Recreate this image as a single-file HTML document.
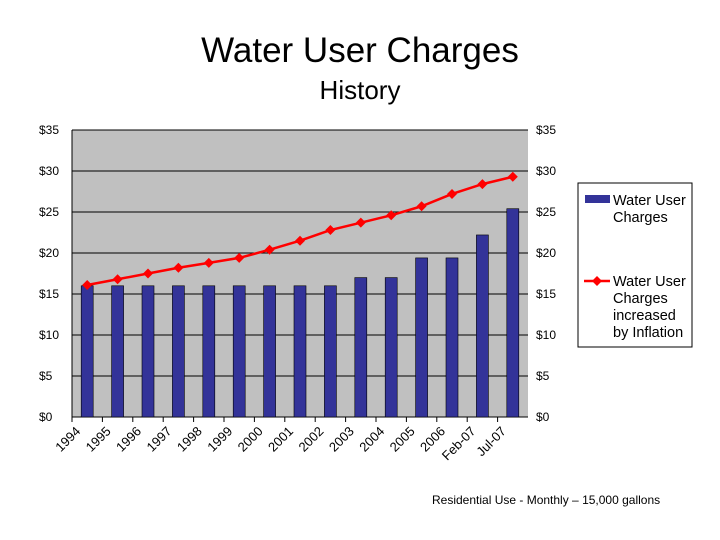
<!DOCTYPE html>
<html><head><meta charset="utf-8"><style>
body{margin:0;background:#fff;font-family:"Liberation Sans",Arial,sans-serif}
svg{display:block}
</style></head><body>
<svg width="720" height="540" viewBox="0 0 720 540">
<text x="360" y="62" font-size="35" text-anchor="middle">Water User Charges</text>
<text x="360" y="99" font-size="26" text-anchor="middle">History</text>
<rect x="72" y="130" width="456" height="287" fill="#c0c0c0"/>
<g id="grid"></g><g id="bars"></g><g id="line"></g><g id="axes"></g>
<rect x="578" y="183" width="114" height="164" fill="#fff" stroke="#000" stroke-width="1"/>
<rect x="585" y="195" width="25" height="8" fill="#333399"/>
<text x="613" y="205" font-size="14.5"><tspan x="613">Water User</tspan><tspan x="613" dy="17">Charges</tspan></text>
<line x1="584" y1="281" x2="610" y2="281" stroke="#ff0000" stroke-width="2.5"/>
<path d="M597 276 L602 281 L597 286 L592 281Z" fill="#ff0000"/>
<text x="613" y="286" font-size="14.5"><tspan x="613">Water User</tspan><tspan x="613" dy="17">Charges</tspan><tspan x="613" dy="17">increased</tspan><tspan x="613" dy="17">by Inflation</tspan></text>
<text x="432" y="504" font-size="12">Residential Use - Monthly – 15,000 gallons</text>
</svg>
<script>
const categories=["1994","1995","1996","1997","1998","1999","2000","2001","2002","2003","2004","2005","2006","Feb-07","Jul-07"];
const charges=[16,16,16,16,16,16,16,16,16,17,17,19.4,19.4,22.2,25.4];
const inflation=[16.1,16.8,17.5,18.2,18.8,19.4,20.4,21.5,22.8,23.7,24.6,25.7,27.2,28.4,29.3];
const yTicks=[0,5,10,15,20,25,30,35];
const NS="http://www.w3.org/2000/svg";
const X0=72,W=456,Y0=417,H=287,YMAX=35;
const step=W/categories.length;
const xc=i=>X0+step*(i+0.5);
const y=v=>Y0-v/YMAX*H;
function mk(t,a,p){const e=document.createElementNS(NS,t);for(const k in a)e.setAttribute(k,a[k]);document.getElementById(p).appendChild(e);return e;}
yTicks.forEach(v=>{
 const g=mk("line",{x1:X0,x2:X0+W,y1:y(v),y2:y(v),stroke:"#000","stroke-width":1},"grid");
 
 
 const l=mk("text",{x:39,y:y(v)+4,"font-size":12},"axes");l.textContent="$"+v;
 
 
 const r=mk("text",{x:536,y:y(v)+4,"font-size":12},"axes");r.textContent="$"+v;
 
 
});
const ax=mk("line",{x1:X0,x2:X0,y1:130,y2:Y0,stroke:"#000"},"axes");


charges.forEach((v,i)=>{
 const b=mk("rect",{x:xc(i)-6,y:y(v),width:12,height:Y0-y(v),fill:"#333399",stroke:"#000","stroke-width":0.6},"bars");
 
 
});
categories.forEach((c,i)=>{
 const t=mk("line",{x1:X0+step*i,x2:X0+step*i,y1:Y0,y2:Y0+5,stroke:"#000"},"axes");
 
 
 const cx=xc(i)-6,cy=Y0+15;
 const l=mk("text",{x:cx,y:cy,"font-size":13,"text-anchor":"end",transform:`rotate(-45 ${cx} ${cy})`},"axes");
 l.textContent=c;
 
 
});
const pl=mk("polyline",{points:inflation.map((v,i)=>xc(i)+","+y(v)).join(" "),fill:"none",stroke:"#ff0000","stroke-width":2.5},"line");


inflation.forEach((v,i)=>{
 const x=xc(i),yy=y(v);
 const m=mk("path",{d:`M${x} ${yy-5} L${x+5} ${yy} L${x} ${yy+5} L${x-5} ${yy}Z`,fill:"#ff0000"},"line");
 
 
});
</script>
</body></html>
